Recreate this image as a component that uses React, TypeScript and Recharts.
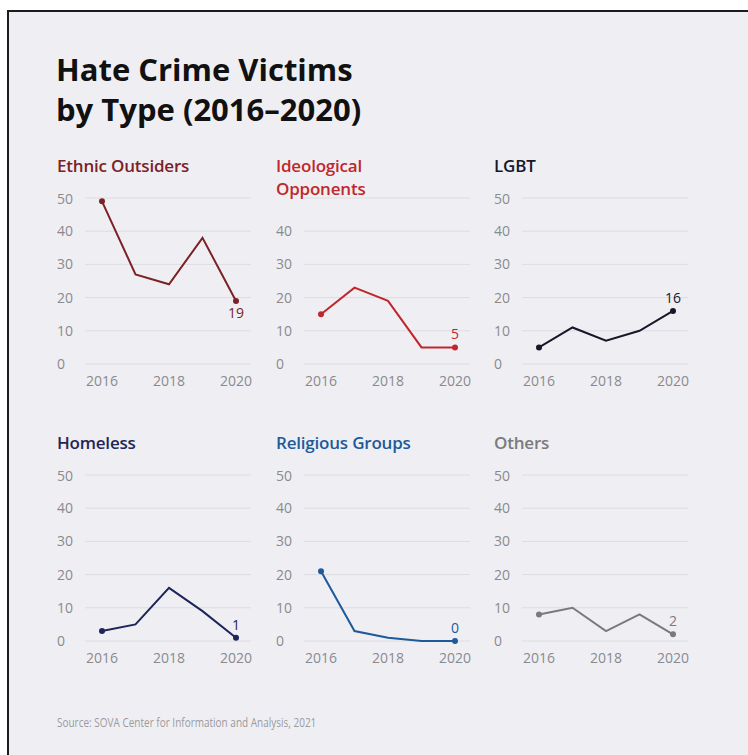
import React from "react";
import { LineChart, Line, XAxis, YAxis, CartesianGrid } from "recharts";

const years = [2016, 2017, 2018, 2019, 2020];
const yearTicks = [2016, 2018, 2020];
const valueTicks = [0, 10, 20, 30, 40, 50];
const shortValueTicks = [0, 10, 20, 30, 40];

const ethnicOutsiders = [49, 27, 24, 38, 19];
const ideologicalOpponents = [15, 23, 19, 5, 5];
const lgbt = [5, 11, 7, 10, 16];
const homeless = [3, 5, 16, 9, 1];
const religiousGroups = [21, 3, 1, 0, 0];
const others = [8, 10, 3, 8, 2];

const FONT = "'Open Sans', 'Noto Sans', sans-serif";

const panels = [
  { title: ["Ethnic Outsiders"], values: ethnicOutsiders, color: "#7b2226", ticks: valueTicks, labelBelow: true, col: 0, row: 0 },
  { title: ["Ideological", "Opponents"], values: ideologicalOpponents, color: "#c0272d", ticks: shortValueTicks, labelBelow: false, col: 1, row: 0 },
  { title: ["LGBT"], values: lgbt, color: "#16182a", ticks: valueTicks, labelBelow: false, col: 2, row: 0 },
  { title: ["Homeless"], values: homeless, color: "#1e2559", ticks: valueTicks, labelBelow: false, col: 0, row: 1 },
  { title: ["Religious Groups"], values: religiousGroups, color: "#1d5a9a", ticks: valueTicks, labelBelow: false, col: 1, row: 1 },
  { title: ["Others"], values: others, color: "#7a7a7e", ticks: valueTicks, labelBelow: false, col: 2, row: 1 },
];

const colLeft = [55, 274, 492];
const plotTop = [198, 475];
const titleTop = [154, 431];

function Panel({ p }: { p: (typeof panels)[number] }) {
  const data = years.map((year, i) => ({ year, value: p.values[i] }));
  const last = data.length - 1;
  const left = colLeft[p.col];
  return (
    <>
      <div
        style={{
          position: "absolute",
          left: left + 2,
          top: titleTop[p.row],
          color: p.color,
          fontFamily: FONT,
          fontWeight: 600,
          fontSize: 17,
          lineHeight: "23px",
          letterSpacing: -0.2,
        }}
      >
        {p.title.map((t) => (
          <div key={t}>{t}</div>
        ))}
      </div>
      <div style={{ position: "absolute", left, top: plotTop[p.row] - 8 }}>
        <LineChart width={208} height={204} data={data} margin={{ top: 8, right: 12, bottom: 0, left: 0 }}>
          <CartesianGrid vertical={false} stroke="#dcdce1" />
          <XAxis
            dataKey="year"
            type="number"
            domain={[2016, 2020]}
            ticks={yearTicks}
            padding={{ left: 17, right: 15 }}
            tickLine={false}
            axisLine={false}
            height={30}
            tickMargin={6}
            tick={{ fill: "#8a8a8e", fontSize: 14, fontFamily: FONT }}
          />
          <YAxis
            type="number"
            domain={[0, 50]}
            ticks={p.ticks}
            tickLine={false}
            axisLine={false}
            width={30}
            tick={(t: any) => (
              <text x={2} y={t.y} dy={5} fill="#8a8a8e" fontSize={14} fontFamily={FONT}>
                {t.payload.value}
              </text>
            )}
          />
          <Line
            type="linear"
            dataKey="value"
            stroke={p.color}
            strokeWidth={2}
            isAnimationActive={false}
            dot={(d: any) =>
              d.index === 0 || d.index === last ? (
                <circle key={d.index} cx={d.cx} cy={d.cy} r={3} fill={p.color} stroke="none" />
              ) : (
                <g key={d.index} />
              )
            }
            label={(l: any) =>
              l.index === last ? (
                <text
                  key={l.index}
                  x={l.x}
                  y={l.y}
                  dy={p.labelBelow ? 17 : -8}
                  textAnchor="middle"
                  fill={p.color}
                  fontSize={14}
                  fontFamily={FONT}
                >
                  {l.value}
                </text>
              ) : (
                <g key={l.index} />
              )
            }
          />
        </LineChart>
      </div>
    </>
  );
}

export default function App() {
  return (
    <div style={{ position: "absolute", left: 0, top: 0, width: 748, height: 755, background: "#ffffff", overflow: "hidden" }}>
      <div
        style={{
          position: "absolute",
          left: 7,
          top: 10,
          width: 741,
          height: 745,
          background: "#efeff3",
          borderLeft: "2.5px solid #1c1c1c",
          borderTop: "2.5px solid #1c1c1c",
          boxSizing: "border-box",
        }}
      />
      <div
        style={{
          position: "absolute",
          left: 56,
          top: 49,
          fontFamily: FONT,
          fontWeight: 700,
          fontSize: 31,
          lineHeight: "40px",
          color: "#111111",
        }}
      >
        <div>Hate Crime Victims</div>
        <div>by Type (2016–2020)</div>
      </div>
      {panels.map((p) => (
        <Panel key={p.title.join(" ")} p={p} />
      ))}
      <div
        style={{
          position: "absolute",
          left: 57,
          top: 713,
          fontFamily: FONT,
          fontSize: 13.5,
          color: "#9a9a9e",
          transform: "scaleX(0.74)",
          transformOrigin: "left center",
          whiteSpace: "nowrap",
        }}
      >
        Source: SOVA Center for Information and Analysis, 2021
      </div>
    </div>
  );
}
